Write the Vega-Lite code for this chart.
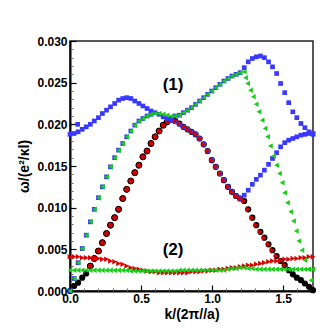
{
"$schema":"https://vega.github.io/schema/vega-lite/v6.json",
"width":243,"height":250,
"autosize":{"type":"none"},
"padding":{"left":70,"top":41,"right":15,"bottom":37},
"background":"white",
"config":{"view":{"stroke":"#222","strokeWidth":1.5},"font":"Liberation Sans"},
"datasets":{
"black":[{"k":0,"w":0},{"k":0.029,"w":0.0006},{"k":0.057,"w":0.001},{"k":0.086,"w":0.0016},{"k":0.114,"w":0.0021},{"k":0.143,"w":0.003},{"k":0.171,"w":0.0039},{"k":0.2,"w":0.0048},{"k":0.228,"w":0.0058},{"k":0.257,"w":0.0069},{"k":0.285,"w":0.0079},{"k":0.314,"w":0.0088},{"k":0.342,"w":0.0098},{"k":0.371,"w":0.0111},{"k":0.399,"w":0.0122},{"k":0.428,"w":0.0132},{"k":0.456,"w":0.0142},{"k":0.485,"w":0.0151},{"k":0.513,"w":0.0161},{"k":0.542,"w":0.0168},{"k":0.57,"w":0.0177},{"k":0.599,"w":0.0185},{"k":0.627,"w":0.0192},{"k":0.656,"w":0.0199},{"k":0.684,"w":0.0203},{"k":0.713,"w":0.0206},{"k":0.741,"w":0.0204},{"k":0.77,"w":0.0201},{"k":0.798,"w":0.0197},{"k":0.827,"w":0.0194},{"k":0.855,"w":0.0191},{"k":0.884,"w":0.0188},{"k":0.912,"w":0.0183},{"k":0.941,"w":0.0176},{"k":0.969,"w":0.0168},{"k":0.998,"w":0.0157},{"k":1.026,"w":0.0149},{"k":1.055,"w":0.0141},{"k":1.083,"w":0.0133},{"k":1.112,"w":0.0125},{"k":1.14,"w":0.0119},{"k":1.169,"w":0.0114},{"k":1.197,"w":0.0111},{"k":1.226,"w":0.0108},{"k":1.254,"w":0.0098},{"k":1.283,"w":0.0088},{"k":1.311,"w":0.0079},{"k":1.34,"w":0.0071},{"k":1.368,"w":0.0064},{"k":1.397,"w":0.0056},{"k":1.425,"w":0.0049},{"k":1.454,"w":0.0042},{"k":1.482,"w":0.0036},{"k":1.511,"w":0.0031},{"k":1.539,"w":0.0025},{"k":1.568,"w":0.002},{"k":1.596,"w":0.0016},{"k":1.625,"w":0.0013},{"k":1.653,"w":0.0009},{"k":1.682,"w":0.0005},{"k":1.71,"w":0.0001}],
"redc":[{"k":0.143,"w":0.003},{"k":0.171,"w":0.0039},{"k":0.2,"w":0.0048},{"k":0.228,"w":0.0058},{"k":0.257,"w":0.0069},{"k":0.285,"w":0.0079},{"k":0.314,"w":0.0088},{"k":0.342,"w":0.0098},{"k":0.371,"w":0.0111},{"k":0.399,"w":0.0122},{"k":0.428,"w":0.0132},{"k":0.456,"w":0.0142},{"k":0.485,"w":0.0151},{"k":0.513,"w":0.0161},{"k":0.542,"w":0.0168},{"k":0.57,"w":0.0177},{"k":0.599,"w":0.0185},{"k":0.627,"w":0.0192},{"k":0.656,"w":0.0199},{"k":0.684,"w":0.0203},{"k":0.713,"w":0.0206}],
"redt":[{"k":0.741,"w":0.0204},{"k":0.77,"w":0.0201},{"k":0.798,"w":0.0197},{"k":0.827,"w":0.0194},{"k":0.855,"w":0.0191},{"k":0.884,"w":0.0188},{"k":0.912,"w":0.0183},{"k":0.941,"w":0.0176},{"k":0.969,"w":0.0168},{"k":0.998,"w":0.0157},{"k":1.026,"w":0.0149},{"k":1.055,"w":0.0141},{"k":1.083,"w":0.0133},{"k":1.112,"w":0.0125},{"k":1.14,"w":0.0119},{"k":1.169,"w":0.0114},{"k":1.197,"w":0.0111},{"k":1.226,"w":0.0108},{"k":1.254,"w":0.0098},{"k":1.283,"w":0.0088},{"k":1.311,"w":0.0079},{"k":1.34,"w":0.0071},{"k":1.368,"w":0.0064},{"k":1.397,"w":0.0056},{"k":1.425,"w":0.0049},{"k":1.454,"w":0.0042},{"k":1.482,"w":0.0036},{"k":1.511,"w":0.0031},
{"k":0,"w":0.0041},{"k":0.029,"w":0.0041},{"k":0.057,"w":0.0041},{"k":0.086,"w":0.004},{"k":0.114,"w":0.004},{"k":0.143,"w":0.004},{"k":0.171,"w":0.0039},{"k":0.2,"w":0.0039},{"k":0.228,"w":0.0038},{"k":0.257,"w":0.0038},{"k":0.285,"w":0.0036},{"k":0.314,"w":0.0035},{"k":0.342,"w":0.0033},{"k":0.371,"w":0.0032},{"k":0.399,"w":0.003},{"k":0.428,"w":0.0028},{"k":0.456,"w":0.0027},{"k":0.485,"w":0.0026},{"k":0.513,"w":0.0025},{"k":0.542,"w":0.0024},{"k":0.57,"w":0.0023},{"k":0.599,"w":0.0023},{"k":0.627,"w":0.0022},{"k":0.656,"w":0.0022},{"k":0.684,"w":0.0022},{"k":0.713,"w":0.0022},{"k":0.741,"w":0.0022},{"k":0.77,"w":0.0022},{"k":0.798,"w":0.0022},{"k":0.827,"w":0.0022},{"k":0.855,"w":0.0023},{"k":0.884,"w":0.0023},{"k":0.912,"w":0.0023},{"k":0.941,"w":0.0024},{"k":0.969,"w":0.0024},{"k":0.998,"w":0.0025},{"k":1.026,"w":0.0025},{"k":1.055,"w":0.0026},{"k":1.083,"w":0.0026},{"k":1.112,"w":0.0027},{"k":1.14,"w":0.0028},{"k":1.169,"w":0.0028},{"k":1.197,"w":0.0029},{"k":1.226,"w":0.003},{"k":1.254,"w":0.0031},{"k":1.283,"w":0.0031},{"k":1.311,"w":0.0032},{"k":1.34,"w":0.0033},{"k":1.368,"w":0.0034},{"k":1.397,"w":0.0035},{"k":1.425,"w":0.0036},{"k":1.454,"w":0.0036},{"k":1.482,"w":0.0037},{"k":1.511,"w":0.0038},{"k":1.539,"w":0.0038},{"k":1.568,"w":0.0039},{"k":1.596,"w":0.0039},{"k":1.625,"w":0.004},{"k":1.653,"w":0.004},{"k":1.682,"w":0.0041},{"k":1.71,"w":0.0041}],
"blue":[{"k":0,"w":0.0188},{"k":0.029,"w":0.0189},{"k":0.057,"w":0.0191},{"k":0.086,"w":0.0194},{"k":0.114,"w":0.0197},{"k":0.143,"w":0.02},{"k":0.171,"w":0.0204},{"k":0.2,"w":0.0208},{"k":0.228,"w":0.0213},{"k":0.257,"w":0.0217},{"k":0.285,"w":0.0221},{"k":0.314,"w":0.0225},{"k":0.342,"w":0.0229},{"k":0.371,"w":0.0231},{"k":0.399,"w":0.0232},{"k":0.428,"w":0.0231},{"k":0.456,"w":0.0228},{"k":0.485,"w":0.0225},{"k":0.513,"w":0.0222},{"k":0.542,"w":0.0219},{"k":0.57,"w":0.0216},{"k":0.599,"w":0.0214},{"k":0.627,"w":0.0212},{"k":0.656,"w":0.0209},{"k":0.684,"w":0.0207},{"k":0.713,"w":0.0205},{"k":0.054,"w":0.02},
{"k":0.741,"w":0.0203},{"k":0.77,"w":0.02},{"k":0.798,"w":0.0197},{"k":0.827,"w":0.0194},{"k":0.855,"w":0.0191},{"k":0.884,"w":0.0188},{"k":0.912,"w":0.0183},{"k":0.941,"w":0.0176},{"k":0.969,"w":0.0168},{"k":0.998,"w":0.0157},{"k":1.026,"w":0.0149},{"k":1.055,"w":0.0141},{"k":1.083,"w":0.0133},{"k":1.112,"w":0.0125},{"k":1.14,"w":0.0119},{"k":1.169,"w":0.0114},{"k":1.197,"w":0.0111},
{"k":1.226,"w":0.0115},{"k":1.254,"w":0.0121},{"k":1.283,"w":0.0128},{"k":1.311,"w":0.0134},{"k":1.34,"w":0.0139},{"k":1.368,"w":0.0145},{"k":1.397,"w":0.0152},{"k":1.425,"w":0.0159},{"k":1.454,"w":0.0166},{"k":1.482,"w":0.0173},{"k":1.511,"w":0.0178},{"k":1.539,"w":0.0181},{"k":1.568,"w":0.0183},{"k":1.596,"w":0.0185},{"k":1.625,"w":0.0187},{"k":1.653,"w":0.0188},{"k":1.682,"w":0.0189},{"k":1.71,"w":0.0189},
{"k":0,"w":0},{"k":0.029,"w":0.0015},{"k":0.057,"w":0.0034},{"k":0.086,"w":0.0051},{"k":0.114,"w":0.0067},{"k":0.143,"w":0.0083},{"k":0.171,"w":0.0098},{"k":0.2,"w":0.0112},{"k":0.228,"w":0.0125},{"k":0.257,"w":0.0137},{"k":0.285,"w":0.0149},{"k":0.314,"w":0.016},{"k":0.342,"w":0.0169},{"k":0.371,"w":0.0177},{"k":0.399,"w":0.0185},{"k":0.428,"w":0.0192},{"k":0.456,"w":0.0199},{"k":0.485,"w":0.0204},{"k":0.513,"w":0.0207},{"k":0.542,"w":0.021},{"k":0.57,"w":0.0212},
{"k":0.741,"w":0.021},{"k":0.77,"w":0.0211},{"k":0.798,"w":0.0214},{"k":0.827,"w":0.0217},{"k":0.855,"w":0.022},{"k":0.884,"w":0.0224},{"k":0.912,"w":0.0228},{"k":0.941,"w":0.0232},{"k":0.969,"w":0.0236},{"k":0.998,"w":0.024},{"k":1.026,"w":0.0244},{"k":1.055,"w":0.0248},{"k":1.083,"w":0.0252},{"k":1.112,"w":0.0255},{"k":1.14,"w":0.0258},{"k":1.169,"w":0.026},{"k":1.197,"w":0.0262},
{"k":1.226,"w":0.0268},{"k":1.254,"w":0.0275},{"k":1.283,"w":0.0279},{"k":1.311,"w":0.0281},{"k":1.34,"w":0.0282},{"k":1.368,"w":0.028},{"k":1.397,"w":0.0275},{"k":1.425,"w":0.0269},{"k":1.454,"w":0.0261},{"k":1.482,"w":0.0249},{"k":1.511,"w":0.0238},{"k":1.539,"w":0.0226},{"k":1.568,"w":0.0215},{"k":1.596,"w":0.0208},{"k":1.625,"w":0.0201},{"k":1.653,"w":0.0196},{"k":1.682,"w":0.0191},{"k":1.71,"w":0.0188}],
"green":[{"k":0,"w":0},{"k":0.029,"w":0.0015},{"k":0.057,"w":0.0034},{"k":0.086,"w":0.0051},{"k":0.114,"w":0.0067},{"k":0.143,"w":0.0083},{"k":0.171,"w":0.0098},{"k":0.2,"w":0.0112},{"k":0.228,"w":0.0125},{"k":0.257,"w":0.0137},{"k":0.285,"w":0.0149},{"k":0.314,"w":0.016},{"k":0.342,"w":0.0169},{"k":0.371,"w":0.0177},{"k":0.399,"w":0.0185},{"k":0.428,"w":0.0192},{"k":0.456,"w":0.0199},{"k":0.485,"w":0.0204},{"k":0.513,"w":0.0207},{"k":0.542,"w":0.021},{"k":0.57,"w":0.0212},{"k":0.599,"w":0.0213},{"k":0.627,"w":0.0213},{"k":0.656,"w":0.0212},{"k":0.684,"w":0.0211},{"k":0.713,"w":0.021},{"k":0.741,"w":0.021},{"k":0.77,"w":0.0211},{"k":0.798,"w":0.0214},{"k":0.827,"w":0.0217},{"k":0.855,"w":0.022},{"k":0.884,"w":0.0224},{"k":0.912,"w":0.0228},{"k":0.941,"w":0.0232},{"k":0.969,"w":0.0236},{"k":0.998,"w":0.024},{"k":1.026,"w":0.0244},{"k":1.055,"w":0.0248},{"k":1.083,"w":0.0252},{"k":1.112,"w":0.0255},{"k":1.14,"w":0.0258},{"k":1.169,"w":0.026},{"k":1.197,"w":0.0262},{"k":1.226,"w":0.0263},
{"k":1.235,"w":0.0256},{"k":1.25,"w":0.0249},{"k":1.27,"w":0.0241},{"k":1.29,"w":0.0233},{"k":1.31,"w":0.0224},{"k":1.33,"w":0.0215},{"k":1.352,"w":0.0205},{"k":1.373,"w":0.0195},{"k":1.39,"w":0.0185},{"k":1.41,"w":0.0174},{"k":1.432,"w":0.0162},{"k":1.453,"w":0.0151},{"k":1.474,"w":0.0141},{"k":1.493,"w":0.013},{"k":1.51,"w":0.0118},{"k":1.53,"w":0.0106},{"k":1.553,"w":0.0095},{"k":1.573,"w":0.0084},{"k":1.592,"w":0.0072},{"k":1.61,"w":0.006},{"k":1.632,"w":0.0049},{"k":1.655,"w":0.0037},{"k":1.678,"w":0.0026},{"k":1.697,"w":0.0013},
{"k":0,"w":0.0025},{"k":0.029,"w":0.0025},{"k":0.057,"w":0.0025},{"k":0.086,"w":0.0025},{"k":0.114,"w":0.0025},{"k":0.143,"w":0.0025},{"k":0.171,"w":0.0025},{"k":0.2,"w":0.0025},{"k":0.228,"w":0.0025},{"k":0.257,"w":0.0025},{"k":0.285,"w":0.0025},{"k":0.314,"w":0.0025},{"k":0.342,"w":0.0025},{"k":0.371,"w":0.0025},{"k":0.399,"w":0.0025},{"k":0.428,"w":0.0024},{"k":0.456,"w":0.0024},{"k":0.485,"w":0.0024},{"k":0.513,"w":0.0024},{"k":0.542,"w":0.0024},{"k":0.57,"w":0.0024},{"k":0.599,"w":0.0024},{"k":0.627,"w":0.0024},{"k":0.656,"w":0.0024},{"k":0.684,"w":0.0024},{"k":0.713,"w":0.0024},{"k":0.741,"w":0.0024},{"k":0.77,"w":0.0025},{"k":0.798,"w":0.0025},{"k":0.827,"w":0.0025},{"k":0.855,"w":0.0025},{"k":0.884,"w":0.0025},{"k":0.912,"w":0.0025},{"k":0.941,"w":0.0025},{"k":0.969,"w":0.0025},{"k":0.998,"w":0.0025},{"k":1.026,"w":0.0025},{"k":1.055,"w":0.0025},{"k":1.083,"w":0.0025},{"k":1.112,"w":0.0026},{"k":1.14,"w":0.0027},{"k":1.169,"w":0.0027},{"k":1.197,"w":0.0028},{"k":1.226,"w":0.0028},{"k":1.254,"w":0.0027},{"k":1.283,"w":0.0027},{"k":1.311,"w":0.0026},{"k":1.34,"w":0.0026},{"k":1.368,"w":0.0026},{"k":1.397,"w":0.0026},{"k":1.425,"w":0.0026},{"k":1.454,"w":0.0026},{"k":1.482,"w":0.0026},{"k":1.511,"w":0.0026},{"k":1.539,"w":0.0026},{"k":1.568,"w":0.0026},{"k":1.596,"w":0.0026},{"k":1.625,"w":0.0026},{"k":1.653,"w":0.0026},{"k":1.682,"w":0.0026},{"k":1.71,"w":0.0026}],
"labels":[{"k":0.725,"w":0.0247,"t":"(1)"},{"k":0.725,"w":0.0049,"t":"(2)"}]
},
"resolve":{"axis":{"x":"independent","y":"independent"}},
"layer":[
{"data":{"name":"black"},"mark":{"type":"circle","size":38,"color":"#000000","opacity":1},
 "encoding":{
  "x":{"field":"k","type":"quantitative","scale":{"domain":[0,1.71],"nice":false,"zero":false},
   "axis":{"orient":"bottom","values":[0,0.5,1,1.5],"format":".1f","ticks":false,"grid":false,"domain":true,"domainColor":"#000","domainWidth":2,"labelFont":"Liberation Sans","labelFontWeight":"bold","labelFontSize":12,"labelColor":"#000","labelPadding":2,"labelFlush":false,"labelOverlap":false,"title":"k/(2π//a)","titleFont":"Liberation Sans","titleFontSize":14,"titleFontWeight":"bold","titleColor":"#000","titlePadding":3}},
  "y":{"field":"w","type":"quantitative","scale":{"domain":[0,0.03],"nice":false,"zero":false},
   "axis":{"orient":"left","values":[0,0.005,0.01,0.015,0.02,0.025,0.03],"format":".3f","ticks":false,"grid":false,"domain":true,"domainColor":"#000","domainWidth":2,"labelFont":"Liberation Sans","labelFontWeight":"bold","labelFontSize":12,"labelColor":"#000","labelPadding":3,"labelFlush":false,"labelOverlap":false,"title":"ω/(e²/κl)","titleFont":"Liberation Sans","titleFontSize":14,"titleFontWeight":"bold","titleColor":"#000","titlePadding":5}}}},
{"data":{"name":"redc"},"mark":{"type":"point","shape":"circle","size":36,"filled":true,"fill":"#d40000","stroke":"#000","strokeWidth":1,"opacity":1},
 "encoding":{
  "x":{"field":"k","type":"quantitative","scale":{"domain":[0,1.71],"nice":false,"zero":false},
   "axis":{"orient":"bottom","values":[0,0.5,1,1.5],"labels":false,"domain":false,"grid":false,"title":null,"ticks":true,"tickSize":-6,"tickColor":"#000","tickWidth":1.2}},
  "y":{"field":"w","type":"quantitative","scale":{"domain":[0,0.03],"nice":false,"zero":false},
   "axis":{"orient":"left","values":[0,0.005,0.01,0.015,0.02,0.025,0.03],"labels":false,"domain":false,"grid":false,"title":null,"ticks":true,"tickSize":-6,"tickColor":"#000","tickWidth":1.2}}}},
{"data":{"name":"blue"},"mark":{"type":"point","shape":"square","size":22,"filled":true,"color":"#3838ff","opacity":1},
 "encoding":{
  "x":{"field":"k","type":"quantitative","scale":{"domain":[0,1.71],"nice":false,"zero":false},
   "axis":{"orient":"bottom","values":[0.1,0.2,0.3,0.4,0.6,0.7,0.8,0.9,1.1,1.2,1.3,1.4,1.6,1.7],"labels":false,"domain":false,"grid":false,"title":null,"ticks":true,"tickSize":-3,"tickColor":"#666","tickWidth":1}},
  "y":{"field":"w","type":"quantitative","scale":{"domain":[0,0.03],"nice":false,"zero":false},
   "axis":{"orient":"left","values":[0.001,0.002,0.003,0.004,0.006,0.007,0.008,0.009,0.011,0.012,0.013,0.014,0.016,0.017,0.018,0.019,0.021,0.022,0.023,0.024,0.026,0.027,0.028,0.029],"labels":false,"domain":false,"grid":false,"title":null,"ticks":true,"tickSize":-3,"tickColor":"#666","tickWidth":1}}}},
{"data":{"name":"redt"},"mark":{"type":"point","shape":"triangle-right","size":30,"filled":true,"color":"#d80000","opacity":1},
 "encoding":{
  "x":{"field":"k","type":"quantitative","axis":null},
  "y":{"field":"w","type":"quantitative","axis":null}}},
{"data":{"name":"green"},"mark":{"type":"point","shape":"triangle-left","size":30,"filled":true,"color":"#18cc18","opacity":1},
 "encoding":{
  "x":{"field":"k","type":"quantitative","axis":null},
  "y":{"field":"w","type":"quantitative","axis":null}}},
{"data":{"name":"labels"},"mark":{"type":"text","font":"Liberation Sans","fontSize":17,"fontWeight":"bold","color":"#000","align":"center","baseline":"middle"},
 "encoding":{
  "x":{"field":"k","type":"quantitative","axis":null},
  "y":{"field":"w","type":"quantitative","axis":null},
  "text":{"field":"t","type":"nominal"}}}
]
}
